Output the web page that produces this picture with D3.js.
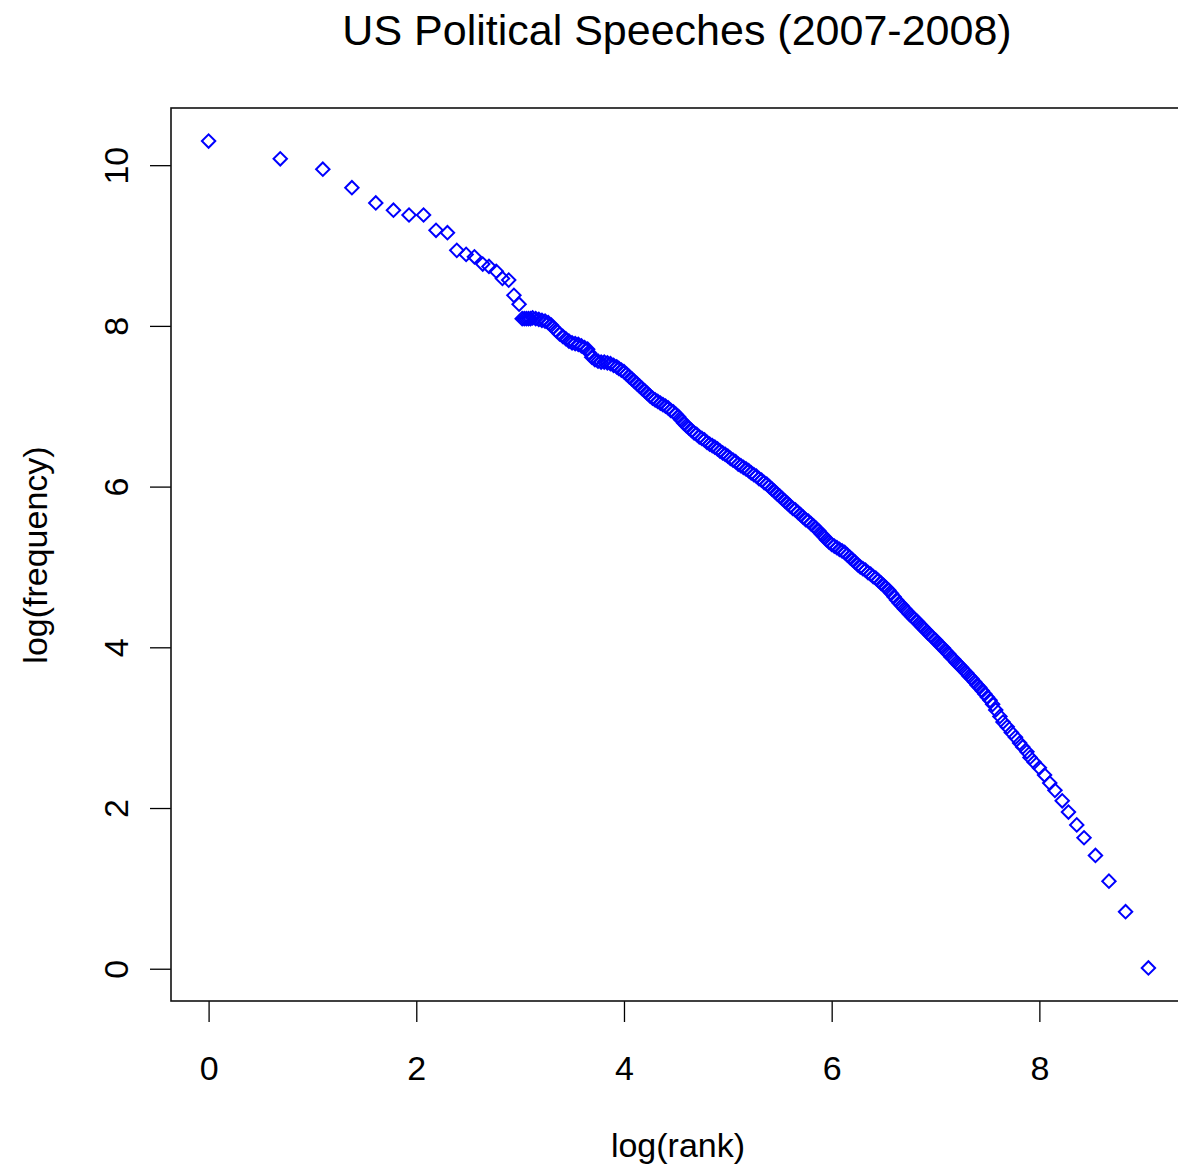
<!DOCTYPE html>
<html>
<head>
<meta charset="utf-8">
<script src="https://cdn.jsdelivr.net/npm/d3@7"></script>
<style>
  body { margin: 0; background: #fff; }
  text { font-family: "Liberation Sans", Arial, sans-serif; fill: #000; }
</style>
</head>
<body>
<script>
// [log(rank), log(frequency)]
var headPoints = [
  [0.00, 10.30], [0.69, 10.08], [1.10, 9.95], [1.38, 9.72], [1.61, 9.53],
  [1.78, 9.44], [1.93, 9.38], [2.07, 9.38], [2.19, 9.19], [2.30, 9.16],
  [2.39, 8.94], [2.48, 8.89], [2.56, 8.86], [2.64, 8.77], [2.70, 8.74],
  [2.77, 8.68], [2.83, 8.59], [2.89, 8.57], [2.94, 8.38], [2.99, 8.27]
];

var bodyPoints = [
  [3.02, 8.09], [3.04, 8.09], [3.06, 8.09], [3.08, 8.09], [3.10, 8.09],
  [3.12, 8.10], [3.15, 8.09], [3.18, 8.08], [3.21, 8.07], [3.24, 8.06],
  [3.27, 8.04], [3.30, 8.01], [3.32, 7.98], [3.35, 7.94], [3.38, 7.90],
  [3.41, 7.87], [3.44, 7.84], [3.47, 7.81], [3.50, 7.79], [3.53, 7.78],
  [3.56, 7.77], [3.59, 7.75], [3.62, 7.73], [3.65, 7.71], [3.67, 7.66],
  [3.69, 7.61], [3.72, 7.58], [3.75, 7.56], [3.78, 7.55], [3.81, 7.55],
  [3.84, 7.54], [3.87, 7.53], [3.90, 7.51], [3.93, 7.49], [3.95, 7.47],
  [3.975, 7.45], [4.00, 7.43], [4.025, 7.40], [4.05, 7.37], [4.075, 7.34],
  [4.10, 7.31], [4.125, 7.28], [4.15, 7.25], [4.175, 7.22], [4.20, 7.19],
  [4.225, 7.16], [4.25, 7.13], [4.275, 7.10], [4.30, 7.08], [4.325, 7.06],
  [4.35, 7.04], [4.375, 7.02], [4.40, 7.00], [4.425, 6.98], [4.45, 6.95],
  [4.475, 6.93], [4.50, 6.90], [4.525, 6.87], [4.55, 6.83], [4.575, 6.79],
  [4.60, 6.76], [4.625, 6.73], [4.65, 6.70], [4.675, 6.67], [4.70, 6.65],
  [4.725, 6.62], [4.75, 6.60], [4.775, 6.58], [4.80, 6.55], [4.825, 6.53],
  [4.85, 6.51], [4.875, 6.49], [4.90, 6.47], [4.925, 6.44], [4.95, 6.42],
  [4.975, 6.40], [5.00, 6.38], [5.025, 6.35], [5.05, 6.33], [5.075, 6.31],
  [5.10, 6.28], [5.125, 6.26], [5.15, 6.24], [5.175, 6.22], [5.20, 6.20],
  [5.225, 6.17], [5.25, 6.15], [5.275, 6.13], [5.30, 6.10], [5.325, 6.08],
  [5.35, 6.05], [5.375, 6.03], [5.40, 6.00], [5.425, 5.97], [5.45, 5.94],
  [5.475, 5.91], [5.50, 5.88], [5.525, 5.85], [5.55, 5.82], [5.575, 5.79],
  [5.60, 5.76], [5.625, 5.73], [5.65, 5.71], [5.675, 5.68], [5.70, 5.65],
  [5.725, 5.62], [5.75, 5.59], [5.775, 5.57], [5.80, 5.54], [5.825, 5.51],
  [5.85, 5.48], [5.875, 5.45], [5.90, 5.41], [5.925, 5.38], [5.95, 5.34],
  [5.975, 5.31], [6.00, 5.28], [6.025, 5.26], [6.05, 5.24], [6.075, 5.22],
  [6.10, 5.20], [6.125, 5.18], [6.15, 5.15], [6.175, 5.12], [6.20, 5.09],
  [6.225, 5.06], [6.25, 5.03], [6.275, 5.00], [6.30, 4.98], [6.325, 4.96],
  [6.35, 4.93], [6.375, 4.91], [6.40, 4.88], [6.425, 4.86], [6.45, 4.83],
  [6.475, 4.80], [6.50, 4.77], [6.525, 4.74], [6.55, 4.71], [6.575, 4.67],
  [6.60, 4.63], [6.625, 4.59], [6.65, 4.55], [6.675, 4.52], [6.70, 4.48],
  [6.725, 4.45], [6.75, 4.41], [6.775, 4.38], [6.80, 4.35], [6.825, 4.32],
  [6.85, 4.28], [6.875, 4.25], [6.90, 4.22], [6.925, 4.18], [6.95, 4.15],
  [6.975, 4.12], [7.00, 4.09], [7.025, 4.05], [7.05, 4.02], [7.075, 3.99],
  [7.10, 3.95], [7.125, 3.92], [7.15, 3.88], [7.175, 3.85], [7.20, 3.81],
  [7.225, 3.78], [7.25, 3.75], [7.275, 3.71], [7.30, 3.68], [7.325, 3.64],
  [7.35, 3.61], [7.375, 3.57], [7.40, 3.53], [7.425, 3.50], [7.45, 3.46],
  [7.475, 3.42], [7.50, 3.38], [7.525, 3.34]
];

var tailPoints = [
  [7.55, 3.29], [7.58, 3.22], [7.62, 3.14], [7.65, 3.07], [7.69, 3.01],
  [7.73, 2.94], [7.77, 2.88], [7.81, 2.81], [7.84, 2.76], [7.88, 2.70],
  [7.91, 2.63], [7.95, 2.57], [8.00, 2.50], [8.05, 2.41], [8.10, 2.31],
  [8.15, 2.22], [8.22, 2.09], [8.28, 1.95], [8.36, 1.79], [8.43, 1.63],
  [8.54, 1.41], [8.67, 1.09], [8.83, 0.71], [9.05, 0.01]
];

var xTicks = [0, 2, 4, 6, 8];
var yTicks = [0, 2, 4, 6, 8, 10];

function drawPlot() {
  var width = 1178, height = 1170;
  var box = { left: 171, top: 108, right: 1186, bottom: 1001 };
  var points = headPoints.concat(bodyPoints, tailPoints);

  var svg = d3.select("body").append("svg")
    .attr("width", width)
    .attr("height", height);

  svg.append("rect")
    .attr("width", width)
    .attr("height", height)
    .attr("fill", "#fff");

  // R style 4% padding on each side
  var xExt = d3.extent(points, function(d) { return d[0]; });
  var yExt = d3.extent(points, function(d) { return d[1]; });
  var xPad = (xExt[1] - xExt[0]) * 0.04, yPad = (yExt[1] - yExt[0]) * 0.04;

  var x = d3.scaleLinear()
    .domain([xExt[0] - xPad, xExt[1] + xPad])
    .range([box.left, box.right]);
  var y = d3.scaleLinear()
    .domain([yExt[0] - yPad, yExt[1] + yPad])
    .range([box.bottom, box.top]);

  var xAxis = d3.axisBottom(x).tickValues(xTicks).tickSize(21).tickPadding(0).tickFormat(d3.format("d"));
  var yAxis = d3.axisLeft(y).tickValues(yTicks).tickSize(21).tickPadding(0).tickFormat(d3.format("d"));

  var gx = svg.append("g")
    .attr("transform", "translate(0," + box.bottom + ")")
    .call(xAxis);
  gx.select(".domain").remove();
  gx.selectAll(".tick line").attr("stroke", "#000").attr("stroke-width", 1.3);
  gx.selectAll(".tick text")
    .attr("y", 79)
    .attr("dy", 0)
    .style("font-size", "34px")
    .style("font-family", "Liberation Sans, Arial, sans-serif");

  var gy = svg.append("g")
    .attr("transform", "translate(" + box.left + ",0)")
    .call(yAxis);
  gy.select(".domain").remove();
  gy.selectAll(".tick line").attr("stroke", "#000").attr("stroke-width", 1.3);
  gy.selectAll(".tick text")
    .attr("x", 0)
    .attr("dy", 0)
    .attr("text-anchor", "middle")
    .attr("transform", "translate(-43,0) rotate(-90)")
    .style("font-size", "34px")
    .style("font-family", "Liberation Sans, Arial, sans-serif");

  svg.append("rect")
    .attr("x", box.left)
    .attr("y", box.top)
    .attr("width", box.right - box.left)
    .attr("height", box.bottom - box.top)
    .attr("fill", "none")
    .attr("stroke", "#111")
    .attr("stroke-width", 1.6);

  var diamond = d3.symbol().type(d3.symbolSquare).size(90);

  svg.append("g")
    .selectAll("path")
    .data(points)
    .enter().append("path")
    .attr("d", diamond)
    .attr("transform", function(d) { return "translate(" + x(d[0]) + "," + y(d[1]) + ") rotate(45)"; })
    .attr("fill", "none")
    .attr("stroke", "#0000ff")
    .attr("stroke-width", 2);

  svg.append("text")
    .attr("x", 677)
    .attr("y", 45)
    .attr("text-anchor", "middle")
    .style("font-size", "43px")
    .text("US Political Speeches (2007-2008)");

  svg.append("text")
    .attr("x", 678)
    .attr("y", 1157)
    .attr("text-anchor", "middle")
    .style("font-size", "34px")
    .text("log(rank)");

  svg.append("text")
    .attr("transform", "translate(47,555) rotate(-90)")
    .attr("text-anchor", "middle")
    .style("font-size", "34px")
    .text("log(frequency)");
}

document.addEventListener("DOMContentLoaded", function (event) {
  drawPlot();
});
</script>
</body>
</html>
